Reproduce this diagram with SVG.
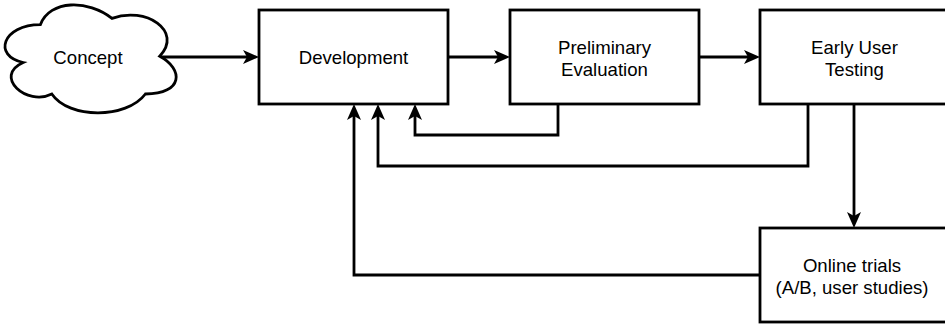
<svg xmlns="http://www.w3.org/2000/svg" width="945" height="325" viewBox="0 0 945 325">
  <style>
    .shape { fill: #ffffff; stroke: #000000; stroke-width: 2.8; }
    .lbl { font-family: "Liberation Sans", Arial, Helvetica, sans-serif; font-size: 18.6px; fill: #000000; text-anchor: middle; }
    .conn { fill: none; stroke: #000000; stroke-width: 2.8; stroke-linejoin: miter; marker-end: url(#arr); }
  </style>
  <defs>
    <marker id="arr" markerUnits="userSpaceOnUse" markerWidth="16" markerHeight="14" viewBox="0 0 16 14" refX="6" refY="7" orient="auto">
      <path d="M0,0 L16,7 L0,14 L4,7 Z" fill="#000000"/>
    </marker>
  </defs>
  <rect width="945" height="325" fill="#ffffff"/>
  <g id="connectors">
    <path class="conn" d="M159.7 57 H249"/>
    <path class="conn" d="M448 57 H500"/>
    <path class="conn" d="M699 57 H750"/>
    <path class="conn" d="M558 104 V135 H415 V114"/>
    <path class="conn" d="M808 104 V166 H378 V114"/>
    <path class="conn" d="M854 104 V218"/>
    <path class="conn" d="M760 275 H354 V114"/>
  </g>
  <g id="concept">
    <path class="shape" d="M40.35 24.7 C2.15 24.7 -7.4 56.2 23.16 62.5 C-7.4 76.4 26.98 106.6 51.81 94 C69 119.2 126.3 119.2 145.4 94 C183.6 94 183.6 68.8 159.7 56.2 C183.6 31 145.4 5.8 112 18.4 C88.1 -0.5 49.9 -0.5 40.35 24.7 Z"/>
    <text class="lbl" x="88" y="63.5">Concept</text>
  </g>
  <g id="development">
    <rect class="shape" x="259" y="10" width="189" height="94"/>
    <text class="lbl" x="353.5" y="63.5">Development</text>
  </g>
  <g id="preliminary-evaluation">
    <rect class="shape" x="510" y="10" width="189" height="94"/>
    <text class="lbl" x="604.5" y="53.5">Preliminary</text>
    <text class="lbl" x="604.5" y="76">Evaluation</text>
  </g>
  <g id="early-user-testing">
    <rect class="shape" x="760" y="10" width="189" height="94"/>
    <text class="lbl" x="854.5" y="53.5">Early User</text>
    <text class="lbl" x="854.5" y="76">Testing</text>
  </g>
  <g id="online-trials">
    <rect class="shape" x="760" y="228" width="189" height="94"/>
    <text class="lbl" x="852" y="271.5">Online trials</text>
    <text class="lbl" x="852" y="294">(A/B, user studies)</text>
  </g>
</svg>
